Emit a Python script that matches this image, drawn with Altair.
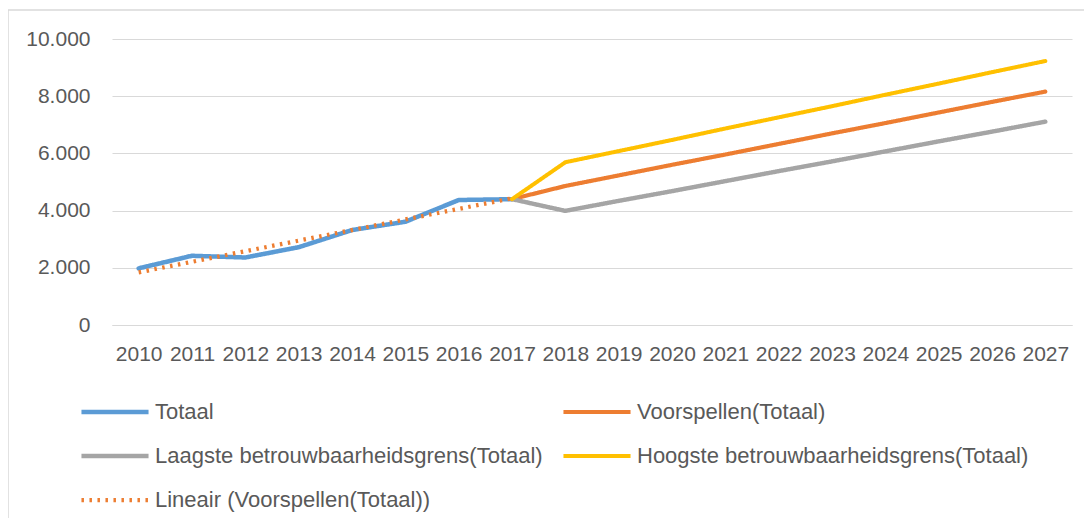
import altair as alt
import pandas as pd

# legend order is column-major (3 rows x 2 columns)
series_names = [
    "Totaal",
    "Laagste betrouwbaarheidsgrens(Totaal)",
    "Lineair (Voorspellen(Totaal))",
    "Voorspellen(Totaal)",
    "Hoogste betrouwbaarheidsgrens(Totaal)",
]
colors = ["#5B9BD5", "#A5A5A5", "#ED7D31", "#ED7D31", "#FFC000"]
dashes = [[1, 0], [1, 0], [2.5, 5.5], [1, 0], [1, 0]]
widths = [4.5, 4, 3, 4, 4]

years = ["2010", "2011", "2012", "2013", "2014", "2015", "2016", "2017", "2018",
         "2019", "2020", "2021", "2022", "2023", "2024", "2025", "2026", "2027"]

totaal_years = ["2010", "2011", "2012", "2013", "2014", "2015", "2016", "2017"]
totaal = [1980, 2420, 2360, 2720, 3320, 3610, 4370, 4400]

forecast_years = ["2017", "2018", "2019", "2020", "2021", "2022", "2023", "2024",
                  "2025", "2026", "2027"]
voorspellen = [4400, 4860, 5230, 5600, 5960, 6330, 6700, 7060, 7430, 7800, 8160]
laagste = [4400, 3990, 4340, 4680, 5030, 5380, 5720, 6070, 6420, 6760, 7110]
hoogste = [4400, 5690, 6080, 6470, 6870, 7260, 7650, 8050, 8440, 8840, 9230]

lineair = [1840, 2210, 2580, 2950, 3320, 3690, 4060, 4430]

TOT, LAAG, LIN, VOOR, HOOG = series_names

rows = []
for s, ys, vs in [
    (TOT, totaal_years, totaal),
    (VOOR, forecast_years, voorspellen),
    (LAAG, forecast_years, laagste),
    (HOOG, forecast_years, hoogste),
    (LIN, totaal_years, lineair),
]:
    for y, v in zip(ys, vs):
        rows.append({"series": s, "year": y, "value": v})
df = pd.DataFrame(rows)

FONT = "Liberation Sans"
TXT = "#595959"
GRID = "#D9D9D9"

x_enc = alt.X(
    "year:O",
    scale=alt.Scale(type="point", domain=years, padding=0.5),
    axis=alt.Axis(
        title=None, labelAngle=0, ticks=False, grid=False,
        domainColor=GRID, domainWidth=1, labelFont=FONT, labelFontSize=21,
        labelColor=TXT, labelPadding=18, labelBaseline="top",
    ),
)
y_enc = alt.Y(
    "value:Q",
    scale=alt.Scale(domain=[0, 10000], nice=False),
    axis=alt.Axis(
        title=None, values=[0, 2000, 4000, 6000, 8000, 10000], ticks=False,
        domain=False, gridColor=GRID, gridWidth=1, labelFont=FONT,
        labelFontSize=21, labelColor=TXT, labelPadding=22,
        labelExpr="replace(format(datum.value, ','), ',', '.')",
    ),
)
color_enc = alt.Color("series:N", scale=alt.Scale(domain=series_names, range=colors),
                      legend=alt.Legend(title=None))
dash_enc = alt.StrokeDash("series:N", scale=alt.Scale(domain=series_names, range=dashes),
                          legend=alt.Legend(title=None))
width_enc = alt.StrokeWidth("series:N", scale=alt.Scale(domain=series_names, range=widths),
                            legend=alt.Legend(title=None))

border = alt.Chart(pd.DataFrame({"a": [0]})).mark_rect(
    fill=None, stroke=GRID, strokeWidth=1.5, clip=False
).encode(
    x=alt.value(-104), x2=alt.value(1100), y=alt.value(-29), y2=alt.value(700)
)

solid = alt.Chart(df).transform_filter(
    alt.datum.series != LIN
).mark_line(strokeCap="round", strokeJoin="round").encode(
    x=x_enc, y=y_enc, color=color_enc, strokeDash=dash_enc, strokeWidth=width_enc
)
dotted = alt.Chart(df).transform_filter(
    alt.datum.series == LIN
).mark_line(strokeCap="butt").encode(
    x=x_enc, y=y_enc, color=color_enc, strokeDash=dash_enc, strokeWidth=width_enc
)

chart = alt.layer(border, solid, dotted).properties(
    width=960, height=286,
    autosize=alt.AutoSizeParams(type="none"),
    padding={"left": 104, "top": 31, "right": 12, "bottom": 193},
).configure_view(stroke=None).configure_legend(
    orient="none", legendX=-33, legendY=361, columns=2, columnPadding=18,
    rowPadding=20, clipHeight=24, symbolType="stroke", symbolSize=4500,
    labelFont=FONT, labelFontSize=22, labelColor=TXT, labelOffset=4,
    padding=0, labelLimit=600,
)

chart.save("out.html", embed_options={"renderer": "svg", "actions": False})
